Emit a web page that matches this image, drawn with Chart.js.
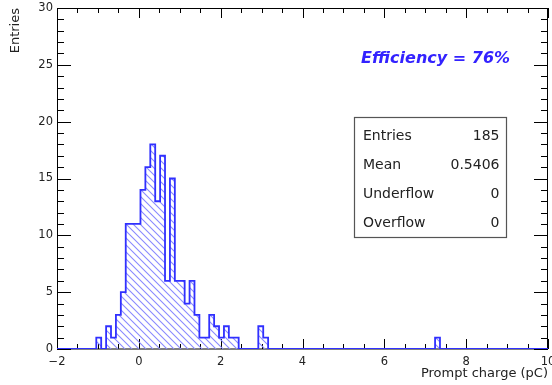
<!DOCTYPE html>
<html>
<head>
<meta charset="utf-8">
<style>
html,body{margin:0;padding:0;background:#fff;}
#wrap{width:552px;height:385px;position:relative;}
</style>
<script src="https://cdn.jsdelivr.net/npm/chart.js"></script>
</head>
<body>
<div id="wrap"><canvas id="c" width="552" height="385"></canvas></div>
<script>
// ---- data ----
const binStart = -2;
const binEnd = 10;
const binWidth = 0.12;
const binLow = [-1.04, -0.80, -0.68, -0.56, -0.44, -0.32, -0.20, -0.08, 0.04, 0.16,
                0.28, 0.40, 0.52, 0.64, 0.76, 0.88, 1.00, 1.12, 1.24, 1.36,
                1.48, 1.60, 1.72, 1.84, 1.96, 2.08, 2.20, 2.32, 2.92, 3.04, 7.24];
const counts = [1, 2, 1, 3, 5, 11, 11, 11, 14, 16,
                18, 13, 17, 6, 15, 6, 6, 4, 6, 3,
                1, 1, 3, 2, 1, 2, 1, 1, 2, 1, 1];
const xMajorTicks = [-2, 0, 2, 4, 6, 8, 10];
const yMajorTicks = [0, 5, 10, 15, 20, 25, 30];
const statLabels = ['Entries', 'Mean', 'Underflow', 'Overflow'];
const statValues = ['185', '0.5406', '0', '0'];
const efficiencyText = 'Efficiency = 76%';
const xTitle = 'Prompt charge (pC)';
const yTitle = 'Entries';

// ---- build stepped histogram points ----
const nBins = Math.round((binEnd - binStart) / binWidth);
const hist = new Array(nBins).fill(0);
binLow.forEach((v, k) => { hist[Math.round((v - binStart) / binWidth)] = counts[k]; });
const points = [];
for (let i = 0; i <= nBins; i++) {
  points.push({ x: Math.round((binStart + i * binWidth) * 1000) / 1000, y: i < nBins ? hist[i] : 0 });
}

const canvas = document.getElementById('c');
const mainCtx = canvas.getContext('2d');
function hatchPattern() {
  const n = 7;
  const c = document.createElement('canvas');
  c.width = n; c.height = n;
  const g = c.getContext('2d');
  g.strokeStyle = '#8a8aff';
  g.lineWidth = 1.1;
  g.beginPath();
  g.moveTo(-1, -1); g.lineTo(n + 1, n + 1);
  g.moveTo(n - 1, -1); g.lineTo(n + 1, 1);
  g.moveTo(-1, n - 1); g.lineTo(1, n + 1);
  g.stroke();
  return mainCtx.createPattern(c, 'repeat');
}

const FONT = "'DejaVu Sans', sans-serif";
const fmt = v => (v < 0 ? '\u2212' + Math.abs(v) : String(v));

const rootPlugin = {
  id: 'rootStyle',
  beforeDatasetsDraw(chart) {
    const { ctx, chartArea: a, scales: { x, y } } = chart;
    ctx.save();
    ctx.strokeStyle = '#000';
    ctx.lineWidth = 1;
    ctx.strokeRect(a.left + 0.5, a.top + 0.5, a.right - a.left - 1, a.bottom - a.top - 0.5);
    ctx.beginPath();
    x.ticks.forEach(t => {
      const px = Math.round(x.getPixelForValue(t.value)) + 0.5;
      const len = xMajorTicks.includes(t.value) ? 10 : 5;
      ctx.moveTo(px, a.bottom); ctx.lineTo(px, a.bottom - len);
      ctx.moveTo(px, a.top); ctx.lineTo(px, a.top + len);
    });
    y.ticks.forEach(t => {
      const py = Math.round(y.getPixelForValue(t.value)) + 0.5;
      const len = yMajorTicks.includes(t.value) ? 14 : 7;
      ctx.moveTo(a.left, py); ctx.lineTo(a.left + len, py);
      ctx.moveTo(a.right, py); ctx.lineTo(a.right - len, py);
    });
    ctx.stroke();
    ctx.restore();
  },
  afterDraw(chart) {
    const { ctx, chartArea: a } = chart;
    ctx.save();
    // axis titles
    ctx.fillStyle = '#222';
    ctx.font = '13px ' + FONT;
    ctx.textAlign = 'right';
    ctx.textBaseline = 'alphabetic';
    ctx.fillText(xTitle, a.right, 377);
    ctx.save();
    ctx.translate(18.5, a.top);
    ctx.rotate(-Math.PI / 2);
    ctx.fillText(yTitle, 0, 0);
    ctx.restore();
    // efficiency label
    ctx.fillStyle = '#3322ff';
    ctx.font = 'italic bold 16px ' + FONT;
    ctx.textAlign = 'center';
    ctx.fillText(efficiencyText, 435.5, 63);
    // stats box
    ctx.fillStyle = '#fff';
    ctx.fillRect(354.5, 117.5, 152, 120);
    ctx.strokeStyle = '#555';
    ctx.lineWidth = 1.2;
    ctx.strokeRect(354.5, 117.5, 152, 120);
    ctx.fillStyle = '#222';
    ctx.font = '14px ' + FONT;
    const rowsY = [140, 168.5, 198, 227];
    statLabels.forEach((lab, i) => {
      ctx.textAlign = 'left';
      ctx.fillText(lab, 363, rowsY[i]);
      ctx.textAlign = 'right';
      ctx.fillText(statValues[i], 499.5, rowsY[i]);
    });
    ctx.restore();
  }
};

new Chart(mainCtx, {
  type: 'line',
  data: {
    datasets: [{
      data: points,
      stepped: true,
      borderColor: '#3030ff',
      borderWidth: 1.8,
      backgroundColor: hatchPattern(),
      fill: 'origin',
      pointRadius: 0,
      tension: 0
    }]
  },
  options: {
    responsive: false,
    devicePixelRatio: 1,
    animation: false,
    events: [],
    layout: { padding: { top: 8, right: 4, left: 0, bottom: 0 } },
    plugins: { legend: { display: false }, tooltip: { enabled: false }, title: { display: false } },
    scales: {
      x: {
        type: 'linear',
        position: 'bottom',
        min: binStart,
        max: binEnd,
        grid: { display: false, drawTicks: false, tickLength: 0 },
        border: { display: false },
        afterBuildTicks: s => {
          const t = [];
          for (let v = binStart; v <= binEnd + 1e-9; v += 0.5) t.push({ value: v });
          s.ticks = t;
        },
        ticks: {
          autoSkip: false,
          maxRotation: 0,
          padding: 6,
          color: '#222',
          font: { family: FONT, size: 11.5, lineHeight: 1.2 },
          callback: v => (xMajorTicks.includes(v) ? fmt(v) : '')
        },
        afterFit: s => { s.height = 36; s.paddingLeft = 0; s.paddingRight = 0; }
      },
      y: {
        type: 'linear',
        min: 0,
        max: 30,
        grid: { display: false, drawTicks: false, tickLength: 0 },
        border: { display: false },
        afterBuildTicks: s => {
          const t = [];
          for (let v = 0; v <= 30; v += 1) t.push({ value: v });
          s.ticks = t;
        },
        ticks: {
          autoSkip: false,
          padding: 4,
          color: '#222',
          font: { family: FONT, size: 11.5 },
          callback: v => (yMajorTicks.includes(v) ? fmt(v) : '')
        },
        afterFit: s => { s.width = 57; s.paddingTop = 0; s.paddingBottom = 0; }
      }
    }
  },
  plugins: [rootPlugin]
});
</script>
</body>
</html>
